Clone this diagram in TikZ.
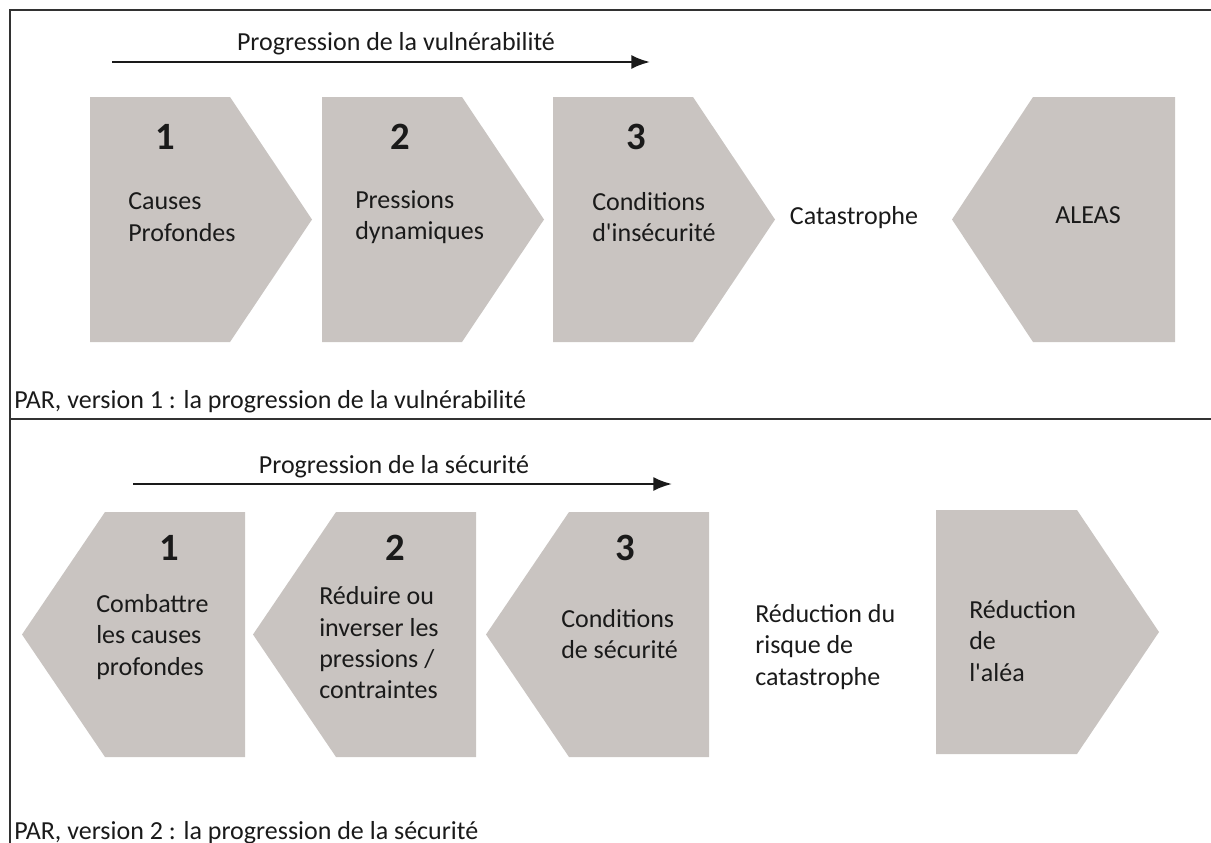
\documentclass[tikz,border=0pt]{standalone}
\usepackage{fontspec}
\setmainfont{Carlito}
\usetikzlibrary{arrows.meta}
\definecolor{ChevronGray}{RGB}{201,196,193}
\definecolor{FrameGray}{RGB}{50,50,50}
\definecolor{InkBlack}{RGB}{26,26,26}
\tikzset{
  chevron/.style={fill=ChevronGray,draw=none},
  framerule/.style={draw=FrameGray,line width=2.1pt},
  progarrow/.style={-{Latex[length=14pt,width=10.5pt]},
    line width=1.7pt,draw=InkBlack},
  steplabel/.style={font=\fontsize{29}{32}\selectfont\bfseries,
    text=InkBlack,inner sep=0pt},
  boxtext/.style={font=\fontsize{19.5}{23.5}\selectfont,align=left,
    anchor=west,inner sep=0pt,text=InkBlack},
  plaintext/.style={font=\fontsize{19.5}{23.5}\selectfont,
    inner sep=0pt,text=InkBlack},
}

\begin{document}
\begin{tikzpicture}[x=0.75pt,y=-0.75pt]
  \useasboundingbox (0,0) rectangle (1211,843);
  % frame
  \draw[framerule] (1211,10) -- (10,10) -- (10,843);
  \draw[framerule] (10,419) -- (1211,419);

  % version 1
  \node[plaintext,anchor=base] (title1) at (396,50) {Progression de la vulnérabilité};
  \coordinate (arr1s) at (112,62);
  \coordinate (arr1e) at (650,62);
  \draw[progarrow] (arr1s) -- (arr1e);
  \foreach \l/\nx/\n in {90/165/1,322/400/2,553/636/3}{
    \fill[chevron] (\l,97) -- ++(140,0) -- ++(82,122.5) -- ++(-82,122.5)
      -- ++(-140,0) -- cycle;
    \node[steplabel] (top\n) at (\nx,137) {\n};
  }
  \node[boxtext] (causes) at (128,217) {Causes\\Profondes};
  \node[boxtext] (pressions) at (355,217) {Pressions\\dynamiques};
  \node[boxtext] (insecu) at (592,217) {Conditions\\d\textquotesingle insécurité};
  \node[plaintext,anchor=base] (catas) at (854,224) {Catastrophe};
  \fill[chevron] (952,219.5) -- (1033,97) -- (1175,97) -- (1175,342)
    -- (1033,342) -- cycle;
  \node[plaintext,anchor=base] (aleas) at (1088,223) {ALEAS};
  \node[plaintext,anchor=base west] (par1) at (14,408)
    {PAR, version 1 : la progression de la vulnérabilité};

  % version 2
  \node[plaintext,anchor=base] (title2) at (394,473) {Progression de la sécurité};
  \coordinate (arr2s) at (133,484);
  \coordinate (arr2e) at (672,484);
  \draw[progarrow] (arr2s) -- (arr2e);
  \foreach \t/\nx/\n in {22/169/1,253/395/2,486/625/3}{
    \fill[chevron] (\t,634.5) -- ++(83,-122.5) -- ++(140,0) -- ++(0,245)
      -- ++(-140,0) -- cycle;
    \node[steplabel] (bot\n) at (\nx,548) {\n};
  }
  \node[boxtext] (combat) at (96,637) {Combattre\\les causes\\profondes};
  \node[boxtext] (reduire) at (319,643) {Réduire ou\\inverser les\\pressions /\\contraintes};
  \node[boxtext] (secu) at (561,634) {Conditions\\de sécurité};
  \node[boxtext] (risque) at (755,647) {Réduction du\\risque de\\catastrophe};
  \fill[chevron] (936,510) -- (1077,510) -- (1159,632) -- (1077,754)
    -- (936,754) -- cycle;
  \node[boxtext] (alea) at (969,641) {Réduction\\de\\l\textquotesingle aléa};
  \node[plaintext,anchor=base west] (par2) at (14,839)
    {PAR, version 2 : la progression de la sécurité};
\end{tikzpicture}
\end{document}
